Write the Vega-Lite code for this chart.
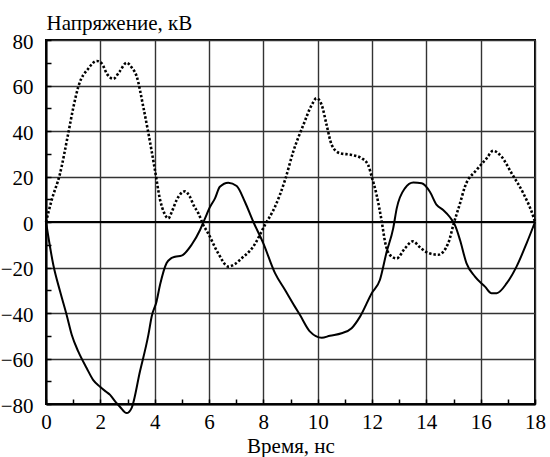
{
  "$schema": "https://vega.github.io/schema/vega-lite/v6.json",
  "width": 489,
  "height": 364,
  "autosize": {"type": "none"},
  "padding": {"left": 46, "top": 40, "right": 15, "bottom": 53},
  "background": "white",
  "config": {
    "font": "'Liberation Serif', 'DejaVu Serif', serif",
    "view": {"stroke": "black", "strokeWidth": 2},
    "axis": {
      "labelFont": "'Liberation Serif', 'DejaVu Serif', serif",
      "titleFont": "'Liberation Serif', 'DejaVu Serif', serif",
      "labelColor": "black",
      "titleColor": "black",
      "labelFontSize": 21,
      "titleFontSize": 21,
      "titleFontWeight": "normal",
      "domainColor": "black",
      "domainWidth": 2,
      "tickColor": "black",
      "tickWidth": 1.5,
      "gridColor": "#333",
      "gridWidth": 1.4,
      "labelFlush": false
    }
  },
  "datasets": {
    "solid": [
      {"t": 0, "v": 0}, {"t": 0.27, "v": -18.9}, {"t": 0.52, "v": -30.6}, {"t": 0.76, "v": -40.9},
      {"t": 0.95, "v": -49.7}, {"t": 1.19, "v": -57}, {"t": 1.5, "v": -64.3}, {"t": 1.74, "v": -69.5},
      {"t": 1.99, "v": -72.4}, {"t": 2.2, "v": -74.5}, {"t": 2.36, "v": -76}, {"t": 2.55, "v": -79},
      {"t": 2.72, "v": -81.2}, {"t": 2.97, "v": -84}, {"t": 3.15, "v": -81.8}, {"t": 3.46, "v": -65.6},
      {"t": 3.77, "v": -49.5}, {"t": 3.89, "v": -41.5}, {"t": 4.07, "v": -34.9}, {"t": 4.2, "v": -27.5},
      {"t": 4.44, "v": -18}, {"t": 4.6, "v": -16}, {"t": 4.75, "v": -15.3}, {"t": 4.99, "v": -14.8},
      {"t": 5.36, "v": -10}, {"t": 5.67, "v": -3.5}, {"t": 5.85, "v": 1.5}, {"t": 6.04, "v": 6.7},
      {"t": 6.22, "v": 10.4}, {"t": 6.4, "v": 15.5}, {"t": 6.71, "v": 17.3}, {"t": 7.02, "v": 15.8},
      {"t": 7.32, "v": 8.9}, {"t": 7.63, "v": 0.1}, {"t": 8.0, "v": -9.4}, {"t": 8.43, "v": -22.5},
      {"t": 8.8, "v": -29.9}, {"t": 9.16, "v": -37.2}, {"t": 9.35, "v": -40.9}, {"t": 9.72, "v": -48.2},
      {"t": 10.15, "v": -50.9}, {"t": 10.45, "v": -50}, {"t": 10.88, "v": -48.9}, {"t": 11.25, "v": -46.7},
      {"t": 11.56, "v": -41.6}, {"t": 11.99, "v": -31.3}, {"t": 12.29, "v": -25.5}, {"t": 12.54, "v": -13.1},
      {"t": 12.78, "v": -2.8}, {"t": 12.91, "v": 6}, {"t": 13.21, "v": 14.8}, {"t": 13.52, "v": 17.4},
      {"t": 13.83, "v": 17}, {"t": 14.13, "v": 13.3}, {"t": 14.38, "v": 7.5}, {"t": 14.62, "v": 5.3},
      {"t": 14.87, "v": 2.1}, {"t": 15.05, "v": -1.3}, {"t": 15.24, "v": -7.9}, {"t": 15.48, "v": -18.2},
      {"t": 15.79, "v": -24}, {"t": 16.16, "v": -28.4}, {"t": 16.4, "v": -31.3}, {"t": 16.59, "v": -31.3},
      {"t": 16.96, "v": -26.9}, {"t": 17.32, "v": -19.6}, {"t": 17.69, "v": -9.4}, {"t": 18, "v": 0}
    ],
    "dotted": [
      {"t": 0, "v": 0}, {"t": 0.21, "v": 9.7}, {"t": 0.51, "v": 21}, {"t": 0.82, "v": 39},
      {"t": 1.0, "v": 50}, {"t": 1.19, "v": 59.5}, {"t": 1.56, "v": 67.5}, {"t": 1.87, "v": 70.8},
      {"t": 2.05, "v": 69.7}, {"t": 2.25, "v": 65}, {"t": 2.48, "v": 62.9}, {"t": 2.7, "v": 66},
      {"t": 2.97, "v": 70}, {"t": 3.15, "v": 68}, {"t": 3.34, "v": 63.9}, {"t": 3.58, "v": 50.7},
      {"t": 3.77, "v": 39}, {"t": 4.01, "v": 22.9}, {"t": 4.2, "v": 9.7}, {"t": 4.35, "v": 4},
      {"t": 4.5, "v": 1.6}, {"t": 4.65, "v": 5}, {"t": 4.81, "v": 9.7}, {"t": 5.12, "v": 13.5},
      {"t": 5.3, "v": 11}, {"t": 5.45, "v": 7}, {"t": 5.61, "v": 3.8}, {"t": 5.79, "v": -1.3},
      {"t": 5.97, "v": -5}, {"t": 6.34, "v": -13.8}, {"t": 6.71, "v": -19.6}, {"t": 6.95, "v": -18.5},
      {"t": 7.2, "v": -16}, {"t": 7.63, "v": -10.8}, {"t": 8.06, "v": -1.3}, {"t": 8.43, "v": 6.7},
      {"t": 8.8, "v": 18.5}, {"t": 9.1, "v": 30.9}, {"t": 9.47, "v": 42.6}, {"t": 9.78, "v": 51.4},
      {"t": 9.96, "v": 54.4}, {"t": 10.15, "v": 51.4}, {"t": 10.33, "v": 42.6}, {"t": 10.52, "v": 33.8},
      {"t": 10.82, "v": 30.2}, {"t": 11.25, "v": 29.5}, {"t": 11.62, "v": 28}, {"t": 11.86, "v": 25},
      {"t": 11.99, "v": 19.9}, {"t": 12.17, "v": 11.9}, {"t": 12.36, "v": 0.1}, {"t": 12.48, "v": -8.7},
      {"t": 12.66, "v": -14.5}, {"t": 12.91, "v": -16}, {"t": 13.21, "v": -11.6}, {"t": 13.5, "v": -8.5},
      {"t": 13.8, "v": -11.5}, {"t": 14.07, "v": -13.6}, {"t": 14.44, "v": -14.4}, {"t": 14.81, "v": -9.2},
      {"t": 15.0, "v": -1}, {"t": 15.24, "v": 8.2}, {"t": 15.42, "v": 15.5}, {"t": 15.85, "v": 22.9},
      {"t": 16.22, "v": 28}, {"t": 16.46, "v": 31.3}, {"t": 16.77, "v": 28.7}, {"t": 17.14, "v": 21.4},
      {"t": 17.57, "v": 12.6}, {"t": 17.94, "v": 2.3}, {"t": 18, "v": 0}
    ],
    "zero": [{"v": 0}]
  },
  "encoding": {
    "x": {
      "field": "t", "type": "quantitative",
      "scale": {"domain": [0, 18], "nice": false},
      "axis": {
        "title": "Время, нс",
        "values": [0,1,2,3,4,5,6,7,8,9,10,11,12,13,14,15,16,17,18],
        "labelExpr": "datum.value % 2 === 0 ? datum.label : ''",
        "tickSize": -5,
        "labelPadding": 12,
        "labelBaseline": "top",
        "grid": true,
        "gridOpacity": {"condition": {"test": "datum.value % 2 === 1", "value": 0}, "value": 1},
        "titleBaseline": "alphabetic",
        "titleY": 48
      }
    },
    "y": {
      "field": "v", "type": "quantitative",
      "scale": {"domain": [-80, 80], "nice": false},
      "axis": {
        "title": "Напряжение, кВ",
        "values": [-80,-70,-60,-50,-40,-30,-20,-10,0,10,20,30,40,50,60,70,80],
        "labelExpr": "datum.value % 20 === 0 ? datum.label : ''",
        "tickSize": -5,
        "labelPadding": 18,
        "labelOffset": 2,
        "grid": true,
        "gridOpacity": {"condition": {"test": "datum.value % 20 !== 0", "value": 0}, "value": 1},
        "titleAngle": 0,
        "titleAlign": "left",
        "titleBaseline": "alphabetic",
        "titleX": 0,
        "titleY": -11
      }
    }
  },
  "layer": [
    {
      "data": {"name": "zero"},
      "mark": {"type": "rule", "color": "black", "strokeWidth": 2},
      "encoding": {"x": null, "y": {"field": "v", "type": "quantitative"}}
    },
    {
      "data": {"name": "dotted"},
      "mark": {"type": "line", "color": "black", "strokeWidth": 2.6, "strokeDash": [2.4, 2], "interpolate": "monotone", "clip": false}
    },
    {
      "data": {"name": "solid"},
      "mark": {"type": "line", "color": "black", "strokeWidth": 2, "interpolate": "monotone", "clip": false}
    }
  ]
}
